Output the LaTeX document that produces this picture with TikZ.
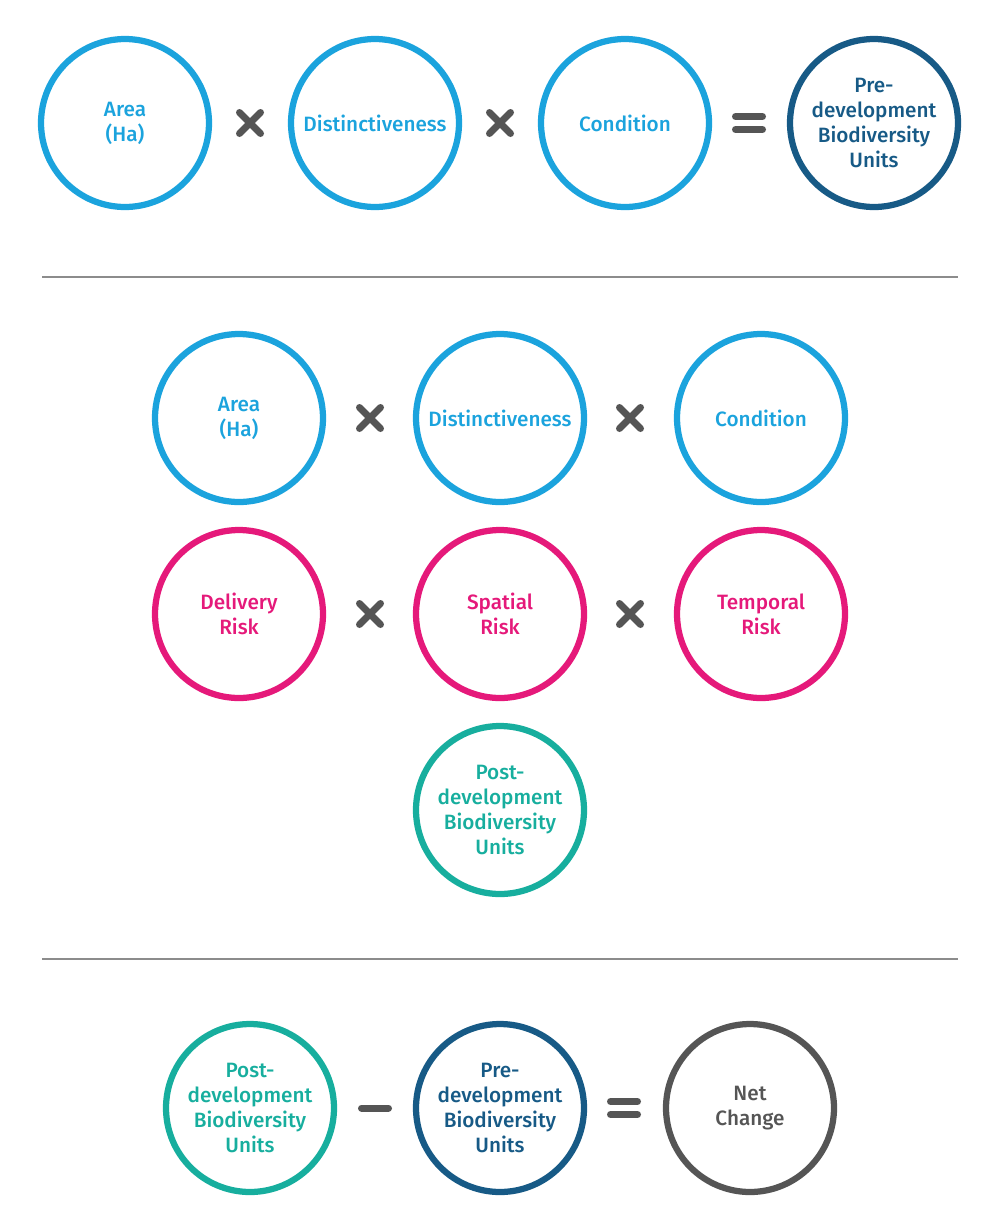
\documentclass[tikz,border=0pt]{standalone}
\usepackage{fontspec}
\setmainfont{Fira Sans Medium}
\usepackage{tikz}
\usetikzlibrary{positioning}

\definecolor{skyblue}{HTML}{1BA3DD}
\definecolor{navyblue}{HTML}{175A86}
\definecolor{riskpink}{HTML}{E5197A}
\definecolor{tealgreen}{HTML}{17AE9E}
\definecolor{signgray}{HTML}{555555}

\tikzset{
    timessign/.pic={\draw[sign] (-10.5,-10.5) -- (10.5,10.5) (-10.5,10.5) -- (10.5,-10.5);},
    equalsign/.pic={\draw[sign] (-13.5,-6.5) -- (13.5,-6.5) (-13.5,6.5) -- (13.5,6.5);},
    minussign/.pic={\draw[sign] (-13.5,0) -- (13.5,0);}
}

\begin{document}
\begin{tikzpicture}[
    x=0.02cm, y=-0.02cm,
    every node/.style={font=\fontsize{11.8}{14.2}\selectfont},
    unit/.style={circle, draw=#1, text=#1, line width=0.125cm, minimum size=3.36cm, inner sep=0pt, align=center},
    sign/.style={draw=signgray, line width=0.14cm, line cap=round},
    rule/.style={draw=black!45, line width=0.85pt}
]
\useasboundingbox (0,0) rectangle (1000,1231);

% pre-development
\node[unit=skyblue] (area1) at (125,123) {Area\\(Ha)};
\node[unit=skyblue] (dist1) at (375,123) {Distinctiveness};
\node[unit=skyblue] (cond1) at (625,123) {Condition};
\node[unit=navyblue] (pre1) at (874,123) {Pre-\\development\\Biodiversity\\Units};
\pic at (250,123) {timessign};
\pic at (500,123) {timessign};
\pic at (749,123) {equalsign};

\draw[rule] (42,277) -- (958,277);

% post-development
\node[unit=skyblue] (area2) at (239,418) {Area\\(Ha)};
\node[unit=skyblue] (dist2) at (500,418) {Distinctiveness};
\node[unit=skyblue] (cond2) at (761,418) {Condition};
\node[unit=riskpink] (delivery) at (239,614) {Delivery\\Risk};
\node[unit=riskpink] (spatial) at (500,614) {Spatial\\Risk};
\node[unit=riskpink] (temporal) at (761,614) {Temporal\\Risk};
\node[unit=tealgreen] (post1) at (500,810) {Post-\\development\\Biodiversity\\Units};
\pic at (370,418) {timessign};
\pic at (630,418) {timessign};
\pic at (370,614) {timessign};
\pic at (630,614) {timessign};

\draw[rule] (42,959) -- (958,959);

% net change
\node[unit=tealgreen] (post2) at (250,1108) {Post-\\development\\Biodiversity\\Units};
\node[unit=navyblue] (pre2) at (500,1108) {Pre-\\development\\Biodiversity\\Units};
\node[unit=signgray] (net) at (750,1108) {Net\\Change};
\pic at (375,1108) {minussign};
\pic at (624,1108) {equalsign};

\end{tikzpicture}
\end{document}
